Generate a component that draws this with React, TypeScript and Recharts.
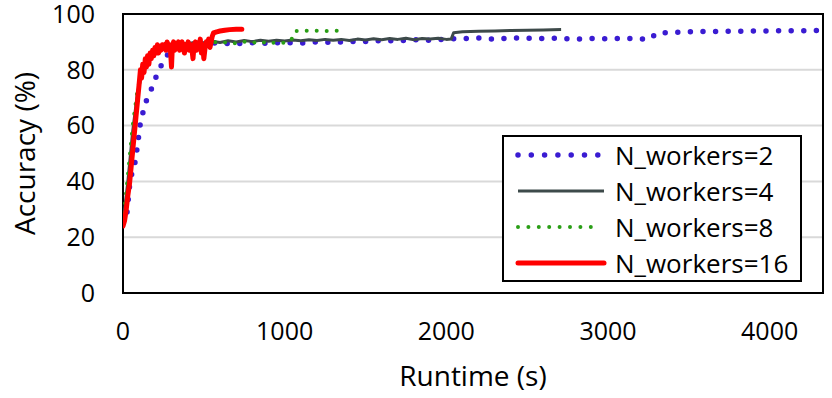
import {
  LineChart, Line, XAxis, YAxis, CartesianGrid, ReferenceArea
} from "recharts";

const FONT = "'Open Sans', sans-serif";

const xTicks = [0, 1000, 2000, 3000, 4000];
const yTicks = [0, 20, 40, 60, 80, 100];

// N_workers=2
const w2Runtime = [25, 40, 55, 75, 90, 105, 120, 145, 175, 205, 240, 270, 300, 340, 400, 450, 500, 550, 600, 700, 800, 900, 1000, 1100, 1200, 1300, 1400, 1500, 1600, 1700, 1800, 1900, 2000, 2100, 2200, 2300, 2400, 2500, 2600, 2700, 2800, 2900, 3000, 3100, 3200, 3260, 3300, 3400, 3500, 3600, 3700, 3800, 3900, 4000, 4100, 4200, 4330];
const w2Accuracy = [29, 38, 43, 47, 53, 60, 64, 69, 73, 77.5, 82, 85, 86.8, 88, 89, 89.6, 89.3, 89.7, 89.5, 89.4, 89.7, 89.5, 89.8, 89.6, 90.0, 89.8, 90.2, 90.1, 90.5, 90.3, 90.8, 90.6, 91.0, 91.2, 91.4, 90.9, 91.4, 91.3, 91.2, 91.3, 91.0, 91.2, 91.1, 91.3, 91.0, 91.0, 93.2, 93.4, 93.6, 93.7, 93.8, 93.8, 93.9, 93.9, 94.0, 94.0, 94.1];

// N_workers=4
const w4Runtime = [0, 30, 60, 90, 120, 150, 200, 250, 300, 350, 400, 450, 500, 550, 600, 650, 700, 750, 800, 850, 900, 950, 1000, 1050, 1100, 1150, 1200, 1250, 1300, 1350, 1400, 1450, 1500, 1550, 1600, 1650, 1700, 1750, 1800, 1850, 1900, 1950, 2000, 2030, 2045, 2100, 2200, 2300, 2400, 2500, 2600, 2710];
const w4Accuracy = [25, 40, 58, 72, 79, 83, 86, 88, 89, 89.5, 89.3, 90, 89.6, 90.2, 89.8, 90.4, 90, 90.5, 90.1, 90.6, 90.2, 90.6, 90.3, 90.7, 90.4, 90.8, 90.5, 90.9, 90.6, 90.9, 90.5, 91, 90.7, 91.1, 90.8, 91.2, 90.9, 91.3, 90.8, 91.2, 91, 91.3, 90.9, 91, 93.3, 93.6, 93.8, 93.9, 94.1, 94.2, 94.3, 94.4];

// N_workers=8
const w8Runtime = [0, 30, 60, 90, 120, 160, 216, 260, 300, 350, 400, 450, 500, 550, 600, 650, 700, 750, 800, 850, 900, 950, 1000, 1040, 1065, 1150, 1250, 1370];
const w8Accuracy = [25, 42, 60, 73, 80, 84, 86.5, 88, 89, 89.8, 89, 90, 89.3, 90.2, 89.5, 90, 89.4, 90.1, 89.6, 90.3, 89.2, 90, 89.6, 90.6, 93.9, 94, 93.9, 94];

// N_workers=16
const w16Runtime = [0, 10, 20, 30, 40, 50, 60, 70, 80, 90, 100, 108, 115, 122, 130, 138, 145, 152, 160, 168, 175, 183, 190, 198, 205, 213, 220, 228, 235, 243, 250, 258, 265, 273, 280, 288, 295, 300, 305, 313, 320, 328, 335, 343, 350, 358, 365, 373, 380, 388, 395, 403, 410, 418, 425, 433, 440, 448, 455, 463, 470, 478, 485, 493, 500, 508, 515, 523, 530, 538, 545, 552, 560, 580, 600, 630, 660, 700, 735];
const w16Accuracy = [24, 26, 30, 35, 39, 45, 51, 57, 63, 69, 75, 80, 77, 82, 79, 84, 81, 85, 82, 86, 84, 87, 85, 88, 86, 89, 86, 88, 87, 89, 88, 89, 87, 90, 88, 89, 86, 81, 88, 90, 87, 89, 88, 90, 87, 89, 90, 88, 86, 89, 88, 90, 87, 89, 88, 84, 89, 90, 87, 89, 88, 91, 86, 89, 84, 88, 90, 89, 91, 88, 90, 92, 93.2, 93.6, 93.9, 94.2, 94.4, 94.5, 94.5];

const toPoints = (ts: number[], vs: number[]) => ts.map((t, i) => ({ t, v: vs[i] }));

const series = [
  { name: "N_workers=2", data: toPoints(w2Runtime, w2Accuracy), color: "#3A1CD2", width: 5.5, dash: "0 12.6", legendDash: "0 13.3", cap: "round" },
  { name: "N_workers=4", data: toPoints(w4Runtime, w4Accuracy), color: "#3D4A4A", width: 3, dash: undefined, legendDash: undefined, cap: "butt" },
  { name: "N_workers=8", data: toPoints(w8Runtime, w8Accuracy), color: "#2A9E16", width: 4, dash: "0 10", legendDash: "0 10.4", cap: "round" },
  { name: "N_workers=16", data: toPoints(w16Runtime, w16Accuracy), color: "#FF0000", width: 5, dash: undefined, legendDash: undefined, cap: "round" },
];

const LegendBox = () => (
  <div style={{
    position: "absolute", left: 502, top: 135,
    width: 300, height: 147, boxSizing: "border-box", border: "2px solid #000",
    background: "#fff", fontFamily: FONT, fontSize: 26, color: "#000",
  }}>
    {series.map((s) => (
      <div key={s.name} style={{ height: 36, display: "flex", alignItems: "center" }}>
        <svg width={98} height={36} style={{ flex: "none", marginLeft: 10 }}>
          <line
            x1={4} x2={s.legendDash ? 87 : 90} y1={18} y2={18}
            stroke={s.color}
            strokeWidth={s.width}
            strokeDasharray={s.legendDash}
            strokeLinecap={s.cap as any}
          />
        </svg>
        <span style={{ marginLeft: 3, lineHeight: "36px", whiteSpace: "nowrap" }}>{s.name}</span>
      </div>
    ))}
  </div>
);

export default function App() {
  return (
    <div style={{ position: "absolute", left: 0, top: 0, width: 832, height: 398, background: "#fff" }}>
      <LineChart width={832} height={398} margin={{ top: 14, right: 9, left: 0, bottom: 0 }}>
        <CartesianGrid horizontal vertical={false} stroke="#D9D9D9" strokeWidth={2} />
        <XAxis
          dataKey="t" type="number" domain={[0, 4330]} ticks={xTicks} allowDataOverflow
          height={105} axisLine={false} tickLine={false} tickSize={0} tickMargin={29}
          tick={{ fill: "#000", fontSize: 25, fontFamily: FONT }}
          label={{ value: "Runtime (s)", position: "insideBottom", offset: 12, fill: "#000", fontSize: 28, fontFamily: FONT }}
        />
        <YAxis
          type="number" domain={[0, 100]} ticks={yTicks} width={123}
          axisLine={false} tickLine={false} tickSize={0} tickMargin={28}
          tick={{ fill: "#000", fontSize: 25, fontFamily: FONT }}
          label={{ value: "Accuracy (%)", angle: -90, position: "insideLeft", offset: 25, fill: "#000", fontSize: 28, fontFamily: FONT, style: { textAnchor: "middle" } }}
        />
        <ReferenceArea x1={0} x2={4330} y1={0} y2={100} fill="none" stroke="#000" strokeWidth={2} />
        {series.map((s) => (
          <Line
            key={s.name}
            data={s.data}
            dataKey="v"
            name={s.name}
            type="linear"
            stroke={s.color}
            strokeWidth={s.width}
            strokeDasharray={s.dash}
            strokeLinecap={s.cap as any}
            strokeLinejoin="round"
            dot={false}
            activeDot={false}
            isAnimationActive={false}
          />
        ))}
      </LineChart>
      <LegendBox />
    </div>
  );
}
